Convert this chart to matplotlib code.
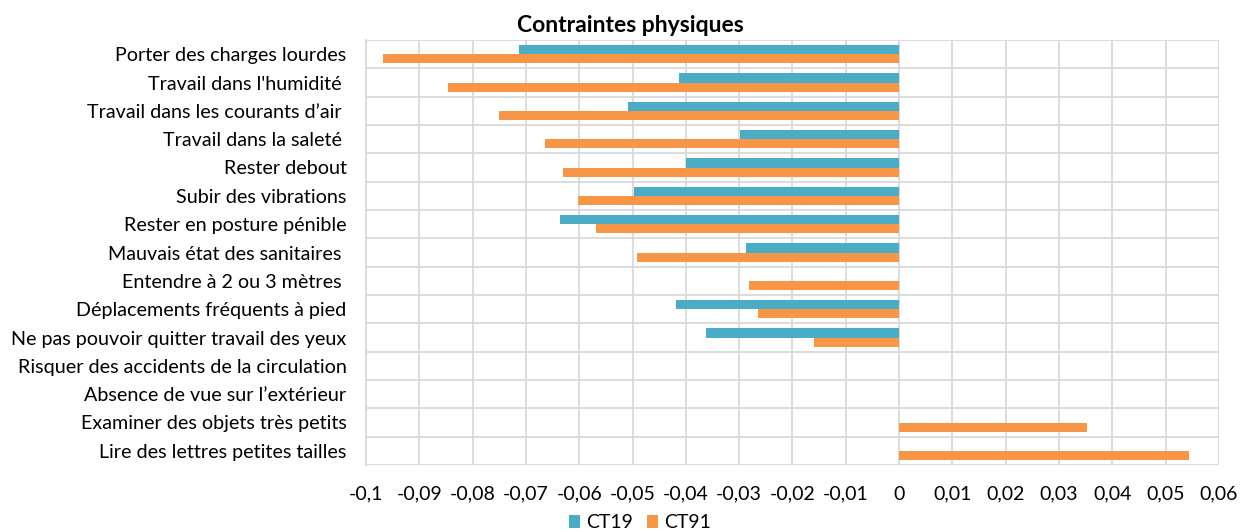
import numpy as np
import matplotlib.pyplot as plt
import matplotlib.ticker as mticker

plt.rcParams['font.family'] = ['Lato', 'DejaVu Sans']

categories = [
    "Porter des charges lourdes",
    "Travail dans l'humidité ",
    "Travail dans les courants d\u2019air ",
    "Travail dans la saleté ",
    "Rester debout",
    "Subir des vibrations",
    "Rester en posture pénible",
    "Mauvais état des sanitaires ",
    "Entendre à 2 ou 3 mètres ",
    "Déplacements fréquents à pied",
    "Ne pas pouvoir quitter travail des yeux",
    "Risquer des accidents de la circulation",
    "Absence de vue sur l\u2019extérieur",
    "Examiner des objets très petits",
    "Lire des lettres petites tailles",
]
ct19 = [-0.0713, -0.0413, -0.0508, -0.0298, -0.0400, -0.0497, -0.0636, -0.0287,
        0, -0.0418, -0.0362, 0, 0, 0, 0]
ct91 = [-0.0968, -0.0846, -0.0750, -0.0664, -0.0630, -0.0602, -0.0568, -0.0492,
        -0.0281, -0.0265, -0.0159, 0, 0, 0.0353, 0.0544]

c19 = "#4BACC6"
c91 = "#F79646"

fig = plt.figure(figsize=(12.4, 5.32), dpi=100)
ax = fig.add_axes([366 / 1240, 1 - 465 / 532, (1219 - 366) / 1240, (465 - 40) / 532])

y = np.arange(len(categories))
h = 0.32
ax.barh(y - h / 2, ct19, height=h, color=c19, label="CT19", zorder=3)
ax.barh(y + h / 2, ct91, height=h, color=c91, label="CT91", zorder=3)

ax.set_ylim(len(categories) - 0.5, -0.5)
ax.set_xlim(-0.1, 0.06)
ax.set_yticks(y)
ax.set_yticklabels(categories, fontsize=14.2)
ax.set_yticks(np.arange(len(categories) + 1) - 0.5, minor=True)
ax.set_xticks(np.arange(-0.1, 0.0601, 0.01))
ax.xaxis.set_major_formatter(mticker.FuncFormatter(
    lambda v, _: "0" if abs(v) < 1e-9 else f"{v:.2f}".rstrip("0").replace(".", ",")))
ax.tick_params(axis='x', labelsize=14, length=0, pad=15)
ax.tick_params(axis='y', which='both', length=0, pad=14)

ax.grid(True, axis='x', which='major', color="#D9D9D9", linewidth=1.3, zorder=0)
ax.grid(True, axis='y', which='minor', color="#D9D9D9", linewidth=1.3, zorder=0)
ax.grid(False, axis='y', which='major')
for s in ax.spines.values():
    s.set_visible(False)
ax.spines['left'].set_visible(True)
ax.spines['left'].set_color("#D9D9D9")
ax.spines['left'].set_linewidth(1.3)

fig.text(0.508, 1 - 26 / 532, "Contraintes physiques", ha='center', va='center',
         fontsize=16.5, fontweight='bold')

fig.legend(loc='center', bbox_to_anchor=(0.516, 1 - 523 / 532), ncol=2, frameon=False,
           fontsize=14, handlelength=0.6, handleheight=0.6, handletextpad=0.3,
           columnspacing=0.7)

fig.savefig("out.png", dpi=100)
